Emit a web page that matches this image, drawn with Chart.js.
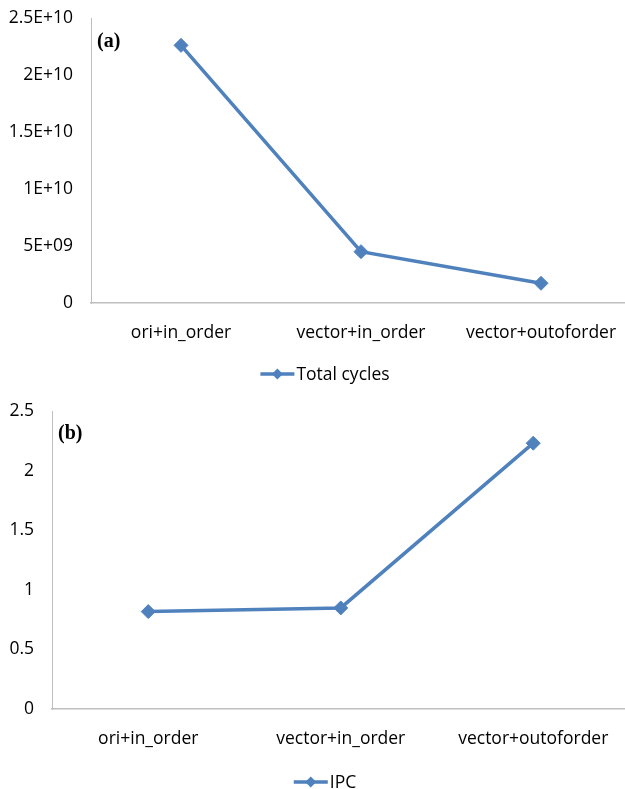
<!DOCTYPE html>
<html><head><meta charset="utf-8">
<script src="https://cdn.jsdelivr.net/npm/chart.js@4/dist/chart.umd.min.js"></script>
<style>
html,body{margin:0;padding:0;background:#fff;overflow:hidden;width:625px;height:789px;}
.wrap{position:absolute;left:0;width:650px;}
canvas{display:block;}
</style></head><body>
<div class="wrap" style="top:0;height:392px"><canvas id="c1" width="650" height="392"></canvas></div>
<div class="wrap" style="top:392px;height:397px"><canvas id="c2" width="650" height="397"></canvas></div>
<script>
// ---- data ----
const categories = ['ori+in_order', 'vector+in_order', 'vector+outoforder'];
const totalCycles = [2.26e10, 4.5e9, 1.73e9];
const ipc = [0.817, 0.848, 2.23];
const cyclesTicks = [0, 5e9, 1e10, 1.5e10, 2e10, 2.5e10];
const cyclesTickLabels = ['0', '5E+09', '1E+10', '1.5E+10', '2E+10', '2.5E+10'];
const ipcTicks = [0, 0.5, 1, 1.5, 2, 2.5];
const ipcTickLabels = ['0', '0.5', '1', '1.5', '2', '2.5'];
const seriesNames = ['Total cycles', 'IPC'];
const panelLabels = ['(a)', '(b)'];

// ---- styles ----
const BLUE = '#4f81bd';
const AXIS = '#bfbfbf';
const FONT = 'Open Sans';
const FS = 17.5;

const legendPlugin = {
  id: 'xlLegend',
  afterDraw(chart, args, opts) {
    const ctx = chart.ctx;
    const name = chart.data.datasets[0].label;
    ctx.save();
    ctx.font = FS + 'px "' + FONT + '"';
    const tw = ctx.measureText(name).width;
    const lineW = 34, gap = 2;
    const total = lineW + gap + tw;
    const x0 = chart.width / 2 - total / 2;
    const y = chart.chartArea.bottom + opts.offset;
    ctx.strokeStyle = BLUE; ctx.lineWidth = 3.5;
    ctx.beginPath(); ctx.moveTo(x0, y); ctx.lineTo(x0 + lineW, y); ctx.stroke();
    const cx = x0 + lineW / 2, r = 5.5;
    ctx.fillStyle = BLUE;
    ctx.beginPath(); ctx.moveTo(cx, y - r); ctx.lineTo(cx + r, y); ctx.lineTo(cx, y + r); ctx.lineTo(cx - r, y); ctx.closePath(); ctx.fill();
    ctx.fillStyle = '#000'; ctx.textBaseline = 'middle'; ctx.textAlign = 'left';
    ctx.fillText(name, x0 + lineW + gap, y + 1);
    ctx.restore();
  }
};

const panelPlugin = {
  id: 'panelLabel',
  afterDraw(chart, args, opts) {
    const ctx = chart.ctx;
    ctx.save();
    ctx.font = 'bold 20px "Liberation Serif"';
    ctx.fillStyle = '#000'; ctx.textBaseline = 'middle'; ctx.textAlign = 'left';
    ctx.fillText(opts.text, chart.chartArea.left + 6, chart.chartArea.top + opts.dy);
    ctx.restore();
  }
};

function makeChart(id, values, name, ticks, tickLabels, yWidth, xHeight, padTop, padRight, label, legendOffset, labelDy) {
  return new Chart(document.getElementById(id), {
    type: 'line',
    data: {
      labels: categories,
      datasets: [{
        label: name,
        data: values,
        borderColor: BLUE,
        backgroundColor: BLUE,
        borderWidth: 3.5,
        pointStyle: 'rectRot',
        pointRadius: 7,
        pointBorderWidth: 1,
        pointBorderColor: BLUE,
        pointBackgroundColor: BLUE,
        tension: 0
      }]
    },
    options: {
      responsive: false,
      animation: false,
      devicePixelRatio: 1,
      layout: { autoPadding: false, padding: { top: padTop, right: padRight, left: 0, bottom: 0 } },
      plugins: {
        legend: { display: false },
        tooltip: { enabled: false },
        xlLegend: { offset: legendOffset },
        panelLabel: { text: label, dy: labelDy }
      },
      scales: {
        x: {
          type: 'category',
          offset: true,
          grid: { display: false, drawTicks: false },
          border: { display: true, color: AXIS, width: 1.5 },
          ticks: { color: '#000', font: { family: FONT, size: FS }, padding: 20, maxRotation: 0, autoSkip: false },
          afterFit(scale) { scale.height = xHeight; scale.paddingLeft = 0; scale.paddingRight = 0; }
        },
        y: {
          min: ticks[0],
          max: ticks[ticks.length - 1],
          grid: { display: false, drawTicks: false },
          border: { display: true, color: AXIS, width: 1 },
          afterBuildTicks(scale) { scale.ticks = ticks.map(v => ({ value: v })); },
          ticks: {
            color: '#000', font: { family: FONT, size: FS }, padding: 18,
            callback: (v, i) => tickLabels[i]
          },
          afterFit(scale) { scale.width = yWidth; scale.paddingTop = 0; scale.paddingBottom = 0; }
        }
      }
    },
    plugins: [legendPlugin, panelPlugin]
  });
}

makeChart('c1', totalCycles, seriesNames[0], cyclesTicks, cyclesTickLabels, 91, 89, 18, 19, panelLabels[0], 71, 23.5);
makeChart('c2', ipc, seriesNames[1], ipcTicks, ipcTickLabels, 52, 80, 19, 20.5, panelLabels[1], 73, 22.5);
</script>
</body></html>
